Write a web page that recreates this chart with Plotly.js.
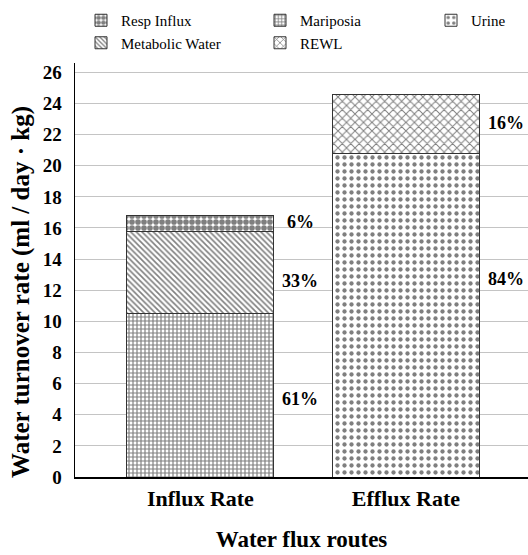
<!DOCTYPE html>
<html>
<head>
<meta charset="utf-8">
<script src="https://cdn.plot.ly/plotly-3.0.1.min.js"></script>
<style>html,body{margin:0;padding:0;background:#fff;}#chart{width:528px;height:555px;}</style>
</head>
<body>
<div id="chart"></div>
<script>
// ---- data ----
const categories = ['Influx Rate', 'Efflux Rate'];
const mariposia = [10.5, null];
const metabolicWater = [5.3, null];
const respInflux = [1.0, null];
const urine = [null, 20.8];
const rewl = [null, 3.8];

const pctText = ['6%', '33%', '61%', '16%', '84%'];
const pctCat = [0, 0, 0, 1, 1];
const pctY = [16.4, 12.6, 5.0, 22.75, 12.7];

const yTicks = [0, 2, 4, 6, 8, 10, 12, 14, 16, 18, 20, 22, 24, 26];
const yTitle = 'Water turnover rate (ml / day · kg)';

// ---- styling ----
const serif = 'Liberation Serif';
const outline = {color: '#333333', width: 1};
function pat(shape, size, solidity) {
  return {shape: shape, size: size, solidity: solidity, fgcolor: '#000000', bgcolor: '#ffffff', fillmode: 'overlay'};
}
const barW = 0.715;

const traces = [
  {type: 'bar', name: 'Mariposia', x: categories, y: mariposia, width: barW,
   marker: {color: '#ffffff', line: outline, pattern: pat('+', 4, 0.5)},
   legend: 'legend2', legendrank: 1},
  {type: 'bar', name: 'Metabolic Water', x: categories, y: metabolicWater, width: barW,
   marker: {color: '#ffffff', line: outline, pattern: pat('\\', 4, 0.4)},
   legend: 'legend', legendrank: 2},
  {type: 'bar', name: 'Resp Influx', x: categories, y: respInflux, width: barW,
   marker: {color: '#ffffff', line: outline, pattern: pat('.', 6, 0.7)},
   legend: 'legend', legendrank: 1},
  {type: 'bar', name: 'Urine', x: categories, y: urine, width: barW,
   marker: {color: '#ffffff', line: outline, pattern: pat('.', 7, 0.3)},
   legend: 'legend3', legendrank: 1},
  {type: 'bar', name: 'REWL', x: categories, y: rewl, width: barW,
   marker: {color: '#ffffff', line: outline, pattern: pat('x', 6, 0.3)},
   legend: 'legend2', legendrank: 2}
];

const annotations = pctText.map((t, i) => ({
  text: t, x: pctCat[i] + 0.487, y: pctY[i], xref: 'x', yref: 'y',
  showarrow: false, font: {family: serif, size: 18, color: '#000', weight: 'bold'}
}));
annotations.push({
  text: yTitle, textangle: -90, xref: 'paper', yref: 'paper',
  x: (21 - 75) / 453, y: 0.447, xanchor: 'center', yanchor: 'middle', showarrow: false,
  font: {family: serif, size: 25, color: '#000', weight: 'bold'}
});

function legendAt(xpx) {
  return {
    xref: 'container', yref: 'container', x: xpx / 528, y: 1 - 4 / 555,
    xanchor: 'left', yanchor: 'top', orientation: 'v', traceorder: 'normal',
    font: {family: serif, size: 15, color: '#000'}, bgcolor: 'rgba(0,0,0,0)',
    itemwidth: 30, tracegroupgap: 0
  };
}

const layout = {
  width: 528, height: 555,
  font: {family: serif, color: '#000'},
  margin: {l: 75, r: 0, t: 63, b: 78, pad: 0, autoexpand: false},
  paper_bgcolor: '#ffffff', plot_bgcolor: '#ffffff',
  barmode: 'stack',
  showlegend: true,
  legend: legendAt(81),
  legend2: legendAt(260),
  legend3: legendAt(431),
  xaxis: {
    type: 'category', range: [-0.61, 1.594], showgrid: false, zeroline: false,
    showline: true, linecolor: '#000', linewidth: 1.5, automargin: false,
    ticks: 'outside', ticklen: 1, tickcolor: 'rgba(255,255,255,0)',
    tickangle: 0,
    tickfont: {family: serif, size: 22, color: '#000', weight: 'bold'},
    title: {text: 'Water flux routes', standoff: 21, font: {family: serif, size: 23, color: '#000', weight: 'bold'}}
  },
  yaxis: {
    range: [0, 26.6], tickvals: yTicks, ticktext: yTicks.map(String), automargin: false,
    showgrid: true, gridcolor: '#c4c4c4', gridwidth: 1, zeroline: false,
    showline: true, linecolor: '#000', linewidth: 1.5,
    ticks: 'outside', ticklen: 8, tickcolor: 'rgba(255,255,255,0)',
    tickfont: {family: serif, size: 19, color: '#000', weight: 'bold'}
  },
  annotations: annotations
};

Plotly.newPlot('chart', traces, layout, {displayModeBar: false, staticPlot: true});
</script>
</body>
</html>
